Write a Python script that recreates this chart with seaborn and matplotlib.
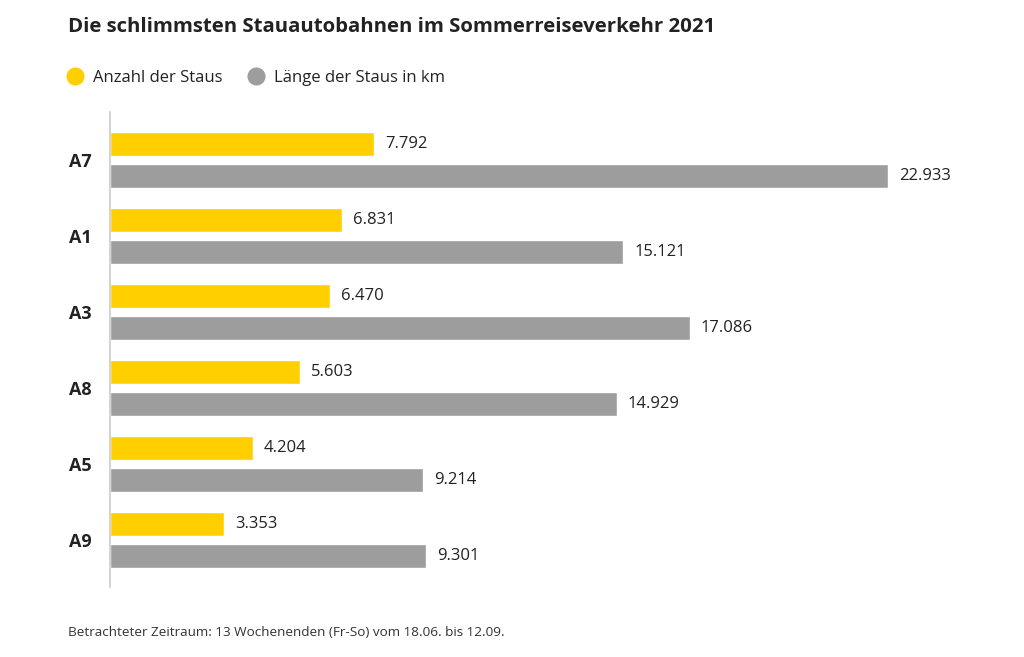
import matplotlib
matplotlib.use("Agg")
import matplotlib.pyplot as plt
from matplotlib.lines import Line2D
import seaborn as sns
import pandas as pd

categories = ["A7", "A1", "A3", "A8", "A5", "A9"]
anzahl = [7792, 6831, 6470, 5603, 4204, 3353]
laenge = [22933, 15121, 17086, 14929, 9214, 9301]
series_names = ["Anzahl der Staus", "Länge der Staus in km"]
colors = ["#FFCF00", "#9D9D9D"]
title = "Die schlimmsten Stauautobahnen im Sommerreiseverkehr 2021"
footer = "Betrachteter Zeitraum: 13 Wochenenden (Fr-So) vom 18.06. bis 12.09."

df = pd.DataFrame({
    "Autobahn": categories * 2,
    "Serie": [series_names[0]] * len(categories) + [series_names[1]] * len(categories),
    "Wert": anzahl + laenge,
})

sns.set_theme(style="white")
plt.rcParams["font.family"] = ["Open Sans", "DejaVu Sans"]
textcol = "#222222"

fig = plt.figure(figsize=(10.24, 6.57), dpi=100)
ax = fig.add_axes([110 / 1024, 70 / 657, 890 / 1024, 475 / 657])

sns.barplot(data=df, y="Autobahn", x="Wert", hue="Serie", order=categories,
            hue_order=series_names, palette=colors, orient="h",
            width=0.842, gap=0.25, ax=ax, legend=False, saturation=1)

ax.set_xlim(0, 890 / 0.03393)
ax.set_ylim(5.618, -0.632)
for s in ["top", "right", "bottom"]:
    ax.spines[s].set_visible(False)
ax.spines["left"].set_color("#CCCCCC")
ax.spines["left"].set_linewidth(1.2)
ax.set_xticks([])
ax.set_xlabel("")
ax.set_ylabel("")
ax.tick_params(axis="y", length=0, pad=13)
for lbl in ax.get_yticklabels():
    lbl.set_fontweight("bold")
    lbl.set_fontsize(13)
    lbl.set_color(textcol)

for cont in ax.containers:
    vals = cont.datavalues
    labels = [f"{int(v):,}".replace(",", ".") for v in vals]
    ax.bar_label(cont, labels=labels, padding=8, fontsize=12, color=textcol)

fig.text(68 / 1024, 1 - 27 / 657, title, fontsize=14.7, fontweight="bold",
         color=textcol, va="center", ha="left")

handles = [Line2D([0], [0], marker="o", linestyle="", markersize=12,
                  markerfacecolor=c, markeredgecolor=c) for c in colors]
fig.legend(handles, series_names, loc="center left",
           bbox_to_anchor=(43 / 1024, 1 - 78 / 657), ncol=2, frameon=False,
           fontsize=12, handletextpad=0.1, columnspacing=1.0,
           labelcolor=textcol)

fig.text(68 / 1024, 1 - 632 / 657, footer, fontsize=9.7, color="#333333",
         va="center", ha="left")

fig.savefig("out.png", dpi=100, facecolor="white")
